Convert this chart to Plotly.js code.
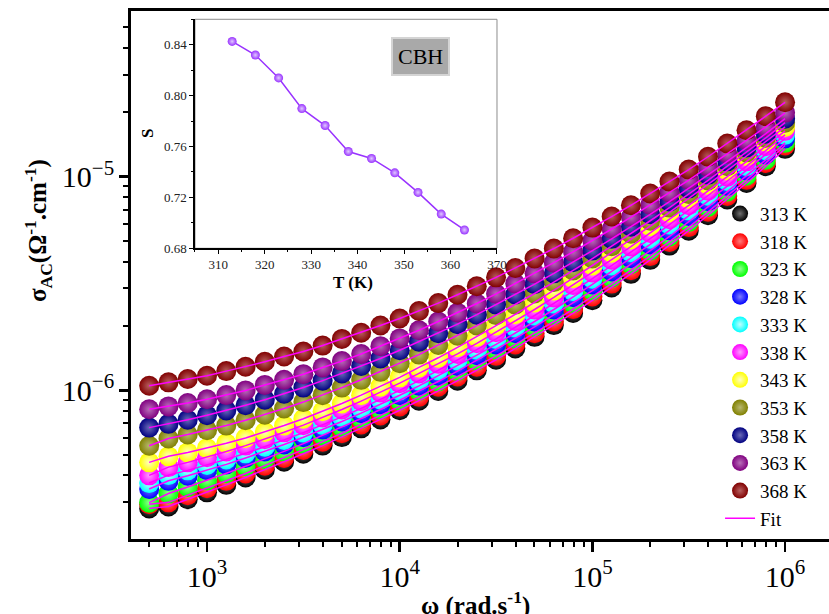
<!DOCTYPE html>
<html><head><meta charset="utf-8">
<script src="https://cdn.plot.ly/plotly-3.0.1.min.js"></script>
<style>html,body{margin:0;padding:0;overflow:hidden;background:#fff}#chart{width:850px;height:614px}</style>
</head><body><div id="chart"></div>
<script>
const omega = [501, 631, 794, 1000, 1259, 1585, 1995, 2512, 3162, 3981, 5012, 6310, 7943, 10000, 12589, 15849, 19953, 25119, 31623, 39811, 50119, 63096, 79433, 100000, 125893, 158489, 199526, 251189, 316228, 398107, 501187, 630957, 794328, 1000000];

const s313 = [2.80e-7, 2.86e-7, 3.09e-7, 3.33e-7, 3.61e-7, 3.91e-7, 4.25e-7, 4.63e-7, 5.05e-7, 5.51e-7, 6.04e-7, 6.64e-7, 7.31e-7, 8.07e-7, 8.94e-7, 9.94e-7, 1.11e-6, 1.24e-6, 1.39e-6, 1.57e-6, 1.78e-6, 2.02e-6, 2.30e-6, 2.64e-6, 3.03e-6, 3.51e-6, 4.08e-6, 4.76e-6, 5.59e-6, 6.60e-6, 7.83e-6, 9.34e-6, 1.12e-5, 1.35e-5];
const s318 = [2.93e-7, 2.99e-7, 3.23e-7, 3.48e-7, 3.77e-7, 4.08e-7, 4.44e-7, 4.82e-7, 5.26e-7, 5.75e-7, 6.30e-7, 6.92e-7, 7.62e-7, 8.41e-7, 9.32e-7, 1.04e-6, 1.16e-6, 1.29e-6, 1.45e-6, 1.64e-6, 1.85e-6, 2.10e-6, 2.40e-6, 2.75e-6, 3.16e-6, 3.65e-6, 4.25e-6, 4.95e-6, 5.81e-6, 6.85e-6, 8.12e-6, 9.67e-6, 1.16e-5, 1.40e-5];
const s323 = [2.98e-7, 3.29e-7, 3.53e-7, 3.79e-7, 4.09e-7, 4.41e-7, 4.77e-7, 5.18e-7, 5.63e-7, 6.15e-7, 6.73e-7, 7.38e-7, 8.13e-7, 8.97e-7, 9.94e-7, 1.10e-6, 1.23e-6, 1.38e-6, 1.55e-6, 1.75e-6, 1.98e-6, 2.25e-6, 2.56e-6, 2.93e-6, 3.37e-6, 3.89e-6, 4.51e-6, 5.25e-6, 6.14e-6, 7.22e-6, 8.52e-6, 1.01e-5, 1.20e-5, 1.44e-5];
const s328 = [3.45e-7, 3.77e-7, 3.98e-7, 4.23e-7, 4.50e-7, 4.82e-7, 5.17e-7, 5.58e-7, 6.03e-7, 6.55e-7, 7.15e-7, 7.82e-7, 8.60e-7, 9.48e-7, 1.05e-6, 1.17e-6, 1.30e-6, 1.46e-6, 1.64e-6, 1.85e-6, 2.10e-6, 2.39e-6, 2.73e-6, 3.13e-6, 3.60e-6, 4.15e-6, 4.82e-6, 5.61e-6, 6.55e-6, 7.68e-6, 9.04e-6, 1.07e-5, 1.27e-5, 1.51e-5];
const s333 = [3.68e-7, 4.01e-7, 4.22e-7, 4.47e-7, 4.75e-7, 5.07e-7, 5.44e-7, 5.86e-7, 6.34e-7, 6.89e-7, 7.51e-7, 8.23e-7, 9.06e-7, 1.00e-6, 1.11e-6, 1.24e-6, 1.38e-6, 1.55e-6, 1.74e-6, 1.97e-6, 2.24e-6, 2.55e-6, 2.91e-6, 3.33e-6, 3.84e-6, 4.43e-6, 5.13e-6, 5.97e-6, 6.96e-6, 8.14e-6, 9.55e-6, 1.12e-5, 1.33e-5, 1.57e-5];
const s338 = [4.00e-7, 4.37e-7, 4.60e-7, 4.86e-7, 5.17e-7, 5.51e-7, 5.90e-7, 6.36e-7, 6.87e-7, 7.46e-7, 8.13e-7, 8.90e-7, 9.78e-7, 1.08e-6, 1.20e-6, 1.33e-6, 1.48e-6, 1.66e-6, 1.87e-6, 2.11e-6, 2.39e-6, 2.72e-6, 3.11e-6, 3.56e-6, 4.09e-6, 4.71e-6, 5.45e-6, 6.32e-6, 7.35e-6, 8.59e-6, 1.00e-5, 1.18e-5, 1.39e-5, 1.64e-5];
const s343 = [4.60e-7, 4.91e-7, 5.12e-7, 5.36e-7, 5.65e-7, 5.98e-7, 6.38e-7, 6.84e-7, 7.36e-7, 7.98e-7, 8.68e-7, 9.49e-7, 1.04e-6, 1.15e-6, 1.28e-6, 1.42e-6, 1.59e-6, 1.78e-6, 2.01e-6, 2.27e-6, 2.58e-6, 2.93e-6, 3.35e-6, 3.84e-6, 4.41e-6, 5.08e-6, 5.87e-6, 6.80e-6, 7.89e-6, 9.18e-6, 1.07e-5, 1.25e-5, 1.46e-5, 1.71e-5];
const s353 = [5.50e-7, 5.95e-7, 6.21e-7, 6.50e-7, 6.84e-7, 7.24e-7, 7.69e-7, 8.22e-7, 8.81e-7, 9.49e-7, 1.03e-6, 1.12e-6, 1.22e-6, 1.34e-6, 1.47e-6, 1.63e-6, 1.80e-6, 2.01e-6, 2.25e-6, 2.52e-6, 2.84e-6, 3.21e-6, 3.64e-6, 4.14e-6, 4.73e-6, 5.41e-6, 6.22e-6, 7.17e-6, 8.29e-6, 9.61e-6, 1.12e-5, 1.30e-5, 1.52e-5, 1.79e-5];
const s358 = [6.69e-7, 6.97e-7, 7.28e-7, 7.64e-7, 8.05e-7, 8.51e-7, 9.04e-7, 9.64e-7, 1.03e-6, 1.11e-6, 1.20e-6, 1.30e-6, 1.41e-6, 1.54e-6, 1.69e-6, 1.85e-6, 2.04e-6, 2.26e-6, 2.52e-6, 2.81e-6, 3.14e-6, 3.53e-6, 3.98e-6, 4.51e-6, 5.12e-6, 5.83e-6, 6.67e-6, 7.65e-6, 8.80e-6, 1.02e-5, 1.18e-5, 1.37e-5, 1.59e-5, 1.87e-5];
const s363 = [8.15e-7, 8.41e-7, 8.72e-7, 9.08e-7, 9.50e-7, 9.99e-7, 1.06e-6, 1.12e-6, 1.19e-6, 1.28e-6, 1.37e-6, 1.48e-6, 1.61e-6, 1.75e-6, 1.91e-6, 2.10e-6, 2.31e-6, 2.55e-6, 2.83e-6, 3.16e-6, 3.53e-6, 3.96e-6, 4.45e-6, 5.02e-6, 5.69e-6, 6.47e-6, 7.37e-6, 8.42e-6, 9.65e-6, 1.11e-5, 1.28e-5, 1.48e-5, 1.71e-5, 1.99e-5];
const s368 = [1.05e-6, 1.09e-6, 1.13e-6, 1.17e-6, 1.23e-6, 1.29e-6, 1.36e-6, 1.44e-6, 1.52e-6, 1.62e-6, 1.74e-6, 1.86e-6, 2.01e-6, 2.17e-6, 2.35e-6, 2.56e-6, 2.80e-6, 3.07e-6, 3.38e-6, 3.74e-6, 4.14e-6, 4.61e-6, 5.15e-6, 5.78e-6, 6.51e-6, 7.35e-6, 8.34e-6, 9.49e-6, 1.08e-5, 1.24e-5, 1.43e-5, 1.65e-5, 1.92e-5, 2.23e-5];

const seriesNames = ["313 K", "318 K", "323 K", "328 K", "333 K", "338 K", "343 K", "353 K", "358 K", "363 K", "368 K"];
const seriesData = [s313, s318, s323, s328, s333, s338, s343, s353, s358, s363, s368];
const seriesColors = ["#000000", "#ff0000", "#00ff00", "#0000ff", "#00ffff", "#ff00ff", "#ffff00", "#808000", "#000080", "#800080", "#800000"];
const highlightColors = ["#707070", "#ff7a7a", "#90ff90", "#7a7aff", "#c0ffff", "#ff9aff", "#ffffc0", "#b8b870", "#6a6ab8", "#b870b8", "#b86060"];

const insetT = [313, 318, 323, 328, 333, 338, 343, 348, 353, 358, 363];
const insetS = [0.8426, 0.8319, 0.8139, 0.7898, 0.7765, 0.7561, 0.7506, 0.7393, 0.7239, 0.7069, 0.6944];

const serif = "Liberation Serif, Times New Roman, serif";
const traces = [];
seriesData.forEach((d, i) => {
  traces.push({
    x: omega, y: d, type: 'scatter', mode: 'markers', name: seriesNames[i],
    legendgroup: 'g' + i,
    marker: {size: 20, color: seriesColors[i], line: {width: 0},
             gradient: {type: 'radial', color: highlightColors[i]}},
    xaxis: 'x', yaxis: 'y'
  });
});
seriesData.forEach((d, i) => {
  traces.push({
    x: omega, y: d, type: 'scatter', mode: 'lines', name: 'Fit',
    legendgroup: 'fit', showlegend: i === 0,
    line: {color: '#ff00ff', width: 1.5},
    xaxis: 'x', yaxis: 'y'
  });
});
traces.push({
  x: insetT, y: insetS, type: 'scatter', mode: 'lines+markers', showlegend: false,
  line: {color: '#9933ff', width: 1.5},
  marker: {size: 9, color: '#9933ff', gradient: {type: 'radial', color: '#e0c8ff'}, line: {width: 0}},
  xaxis: 'x2', yaxis: 'y2'
});

const layout = {
  width: 850, height: 614,
  margin: {l: 131, r: 5, t: 11, b: 75},
  paper_bgcolor: '#ffffff', plot_bgcolor: 'rgba(0,0,0,0)',
  showlegend: true,
  xaxis: {
    type: 'log', range: [2.6055, 6.311], dtick: 1, exponentformat: 'power',
    showline: true, linewidth: 3, linecolor: 'black', mirror: true,
    ticks: 'outside', ticklen: 10, tickwidth: 2.5, tickcolor: 'black',
    minor: {ticks: 'outside', ticklen: 5, tickwidth: 2, tickcolor: 'black', dtick: 'D1'},
    tickfont: {family: serif, size: 24, color: 'black'},
    showgrid: false, zeroline: false
  },
  yaxis: {
    type: 'log', range: [-6.696, -4.2243], dtick: 1, exponentformat: 'power',
    showline: true, linewidth: 3, linecolor: 'black', mirror: true,
    ticks: 'outside', ticklen: 9, tickwidth: 2.5, tickcolor: 'black',
    minor: {ticks: 'outside', ticklen: 5, tickwidth: 2, tickcolor: 'black', dtick: 'D1'},
    tickfont: {family: serif, size: 24, color: 'black'},
    showgrid: false, zeroline: false
  },
  xaxis2: {
    domain: [0.0896, 0.5126], anchor: 'y2', range: [305, 370], tick0: 310, dtick: 10,
    showline: true, linewidth: 1.5, linecolor: 'black',
    ticks: 'outside', ticklen: 4, tickwidth: 1, tickcolor: 'black',
    minor: {ticks: 'outside', ticklen: 2, tickwidth: 1, tickcolor: 'black', dtick: 5},
    tickfont: {family: serif, size: 13, color: '#222'},
    showgrid: false, zeroline: false
  },
  yaxis2: {
    domain: [0.5506, 0.9843], anchor: 'x2', range: [0.68, 0.86], tick0: 0.68, dtick: 0.04, tickformat: '.2f',
    showline: true, linewidth: 1.5, linecolor: 'black',
    ticks: 'outside', ticklen: 4, tickwidth: 1, tickcolor: 'black',
    minor: {ticks: 'outside', ticklen: 2, tickwidth: 1, tickcolor: 'black', dtick: 0.02},
    tickfont: {family: serif, size: 13, color: '#222'},
    showgrid: false, zeroline: false
  },
  shapes: [
    {type: 'rect', xref: 'x2 domain', yref: 'y2 domain', x0: 0, x1: 1, y0: 0, y1: 1,
     line: {color: '#8c8c8c', width: 1}, fillcolor: 'rgba(0,0,0,0)', layer: 'below'}
  ],
  legend: {
    x: 0.825, y: 0.652, xanchor: 'left', yanchor: 'top',
    bgcolor: 'rgba(0,0,0,0)', borderwidth: 0,
    font: {family: serif, size: 19, color: 'black'},
    tracegroupgap: 0, itemsizing: 'trace'
  },
  annotations: [
    {xref: 'paper', yref: 'paper', x: -0.1303, y: 0.585, xanchor: 'center', yanchor: 'middle',
     text: '<b>σ<sub>AC</sub>(Ω<sup>-1</sup>.cm<sup>-1</sup>)</b>', textangle: -90, showarrow: false,
     font: {family: serif, size: 25, color: 'black'}},
    {xref: 'paper', yref: 'paper', x: 0.483, y: -0.123, xanchor: 'center', yanchor: 'middle',
     text: '<b>ω (rad.s<sup>-1</sup>)</b>', showarrow: false,
     font: {family: serif, size: 25, color: 'black'}},
    {xref: 'paper', yref: 'paper', x: 0.0238, y: 0.769, xanchor: 'center', yanchor: 'middle',
     text: '<b>S</b>', textangle: -90, showarrow: false,
     font: {family: serif, size: 17, color: 'black'}},
    {xref: 'paper', yref: 'paper', x: 0.311, y: 0.485, xanchor: 'center', yanchor: 'middle',
     text: '<b>T (K)</b>', showarrow: false,
     font: {family: serif, size: 17, color: 'black'}},
    {xref: 'paper', yref: 'paper', x: 0.4048, y: 0.9129, xanchor: 'center', yanchor: 'middle',
     text: 'CBH', showarrow: false, bgcolor: '#a9a9a9', bordercolor: '#d4d4d4', borderwidth: 2, borderpad: 5,
     font: {family: serif, size: 22, color: 'black'}}
  ]
};

Plotly.newPlot('chart', traces, layout, {displayModeBar: false, staticPlot: true});
</script>
</body></html>
